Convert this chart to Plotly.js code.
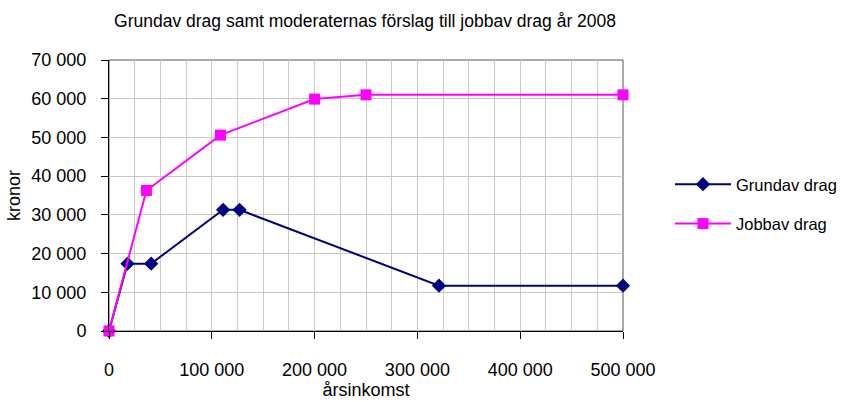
<!DOCTYPE html>
<html>
<head>
<meta charset="utf-8">
<script src="https://cdn.plot.ly/plotly-3.0.1.min.js"></script>
<style>html,body{margin:0;padding:0;background:#fff;}#chart{width:845px;height:402px;}</style>
</head>
<body>
<div id="chart"></div>
<script>
const grundX = [0, 18000, 41000, 111000, 127000, 321000, 500000];
const grundY = [0, 17400, 17400, 31300, 31300, 11700, 11700];
const jobbX = [0, 36400, 108400, 200000, 250000, 500000];
const jobbY = [0, 36300, 50600, 59900, 61000, 61000];
const seriesNames = ["Grundav drag", "Jobbav drag"];
const chartTitle = "Grundav drag samt moderaternas förslag till jobbav drag år 2008";
const xTitle = "årsinkomst";
const yTitle = "kronor";

const font = "Liberation Sans, Arial, sans-serif";
const traces = [
  {x: grundX, y: grundY, name: seriesNames[0], mode: "lines+markers", legendgroup: "a", cliponaxis: false,
   line: {color: "#000080", width: 2}, marker: {symbol: "diamond", size: 11, color: "#000080"}},
  {x: jobbX, y: jobbY, name: seriesNames[1], mode: "lines+markers", legendgroup: "b", cliponaxis: false,
   line: {color: "#ff00ff", width: 2}, marker: {symbol: "square", size: 11, color: "#ff00ff"}}
];

const layout = {
  width: 845, height: 402,
  margin: {l: 109, r: 222, t: 60, b: 71, autoexpand: false},
  paper_bgcolor: "#fff", plot_bgcolor: "#fff",
  font: {family: font, size: 18, color: "#000"},
  separators: ", ",
  title: {text: chartTitle, font: {family: font, size: 17.5, color: "#000"}, x: 0.432, xanchor: "center", y: 0.948, yanchor: "middle"},
  xaxis: {
    range: [0, 500000], tickvals: [0, 100000, 200000, 300000, 400000, 500000], tickformat: ",d",
    ticks: "outside", ticklen: 7, tickcolor: "#000", ticklabelstandoff: 15,
    tickfont: {family: font, size: 18},
    showline: true, linecolor: "#000", linewidth: 1,
    showgrid: true, gridcolor: "#c8c8c8", gridwidth: 1,
    minor: {dtick: 25000, showgrid: true, gridcolor: "#c8c8c8", gridwidth: 1},
    zeroline: false, automargin: false,
    title: {text: xTitle, font: {family: font, size: 18}, standoff: 0}
  },
  yaxis: {
    range: [0, 70000], dtick: 10000, tickformat: ",d",
    ticks: "outside", ticklen: 7, tickcolor: "#000", ticklabelstandoff: 11,
    tickfont: {family: font, size: 18},
    showline: true, linecolor: "#000", linewidth: 1,
    showgrid: true, gridcolor: "#c8c8c8", gridwidth: 1,
    zeroline: false, automargin: false,
    title: {text: yTitle, font: {family: font, size: 18}, standoff: 6}
  },
  shapes: [{type: "rect", xref: "paper", yref: "paper", x0: 0, x1: 1, y0: 0, y1: 1,
            line: {color: "#555", width: 1}, layer: "below"}],
  legend: {x: 1.0914, xanchor: "left", y: 0.469, yanchor: "middle", tracegroupgap: 15,
           itemwidth: 56,
           font: {family: font, size: 16.5}, bgcolor: "rgba(0,0,0,0)", traceorder: "grouped"}
};
Plotly.newPlot("chart", traces, layout, {displayModeBar: false, staticPlot: true});
</script>
</body>
</html>
